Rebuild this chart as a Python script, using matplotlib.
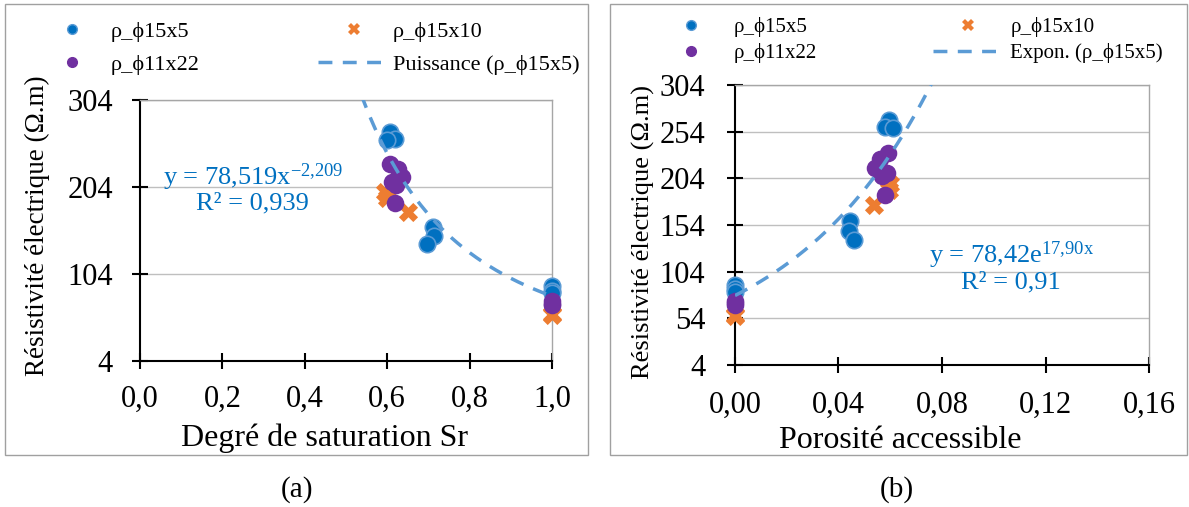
import numpy as np
import matplotlib
matplotlib.use("Agg")
import matplotlib.pyplot as plt
from matplotlib.lines import Line2D
from matplotlib.patches import Rectangle

plt.rcParams['font.family'] = ['Liberation Serif', 'DejaVu Serif']
plt.rcParams['mathtext.fontset'] = 'custom'
plt.rcParams['mathtext.rm'] = 'Liberation Serif'
plt.rcParams['mathtext.it'] = 'Liberation Serif'

# données
rho_15x5 = [267, 259, 258, 158, 148, 138, 90, 85, 82]
sr_15x5 = [0.607, 0.619, 0.599, 0.710, 0.714, 0.697, 1.0, 1.0, 1.0]
por_15x5 = [0.0596, 0.0581, 0.0610, 0.0443, 0.0439, 0.0461, 0.0, 0.0, 0.0]

rho_15x10 = [198, 191, 175, 58, 57]
sr_15x10 = [0.595, 0.599, 0.651, 1.0, 1.0]
por_15x10 = [0.0600, 0.0594, 0.0536, 0.0, 0.0]

rho_11x22 = [231, 225, 215, 210, 206, 186, 73, 70, 68]
sr_11x22 = [0.607, 0.627, 0.635, 0.611, 0.621, 0.619, 1.0, 1.0, 1.0]
por_11x22 = [0.0590, 0.0561, 0.0542, 0.0587, 0.0568, 0.0581, 0.0, 0.0, 0.0]

# courbes de tendance (équations affichées)
pow_a, pow_b = 78.519, -2.209
exp_a, exp_b = 78.42, 17.90

y_ticks_a = [4, 104, 204, 304]
x_ticks_a = [0.0, 0.2, 0.4, 0.6, 0.8, 1.0]
y_ticks_b = [4, 54, 104, 154, 204, 254, 304]
x_ticks_b = [0.0, 0.04, 0.08, 0.12, 0.16]

c_blue = '#0070C0'
c_blue_edge = '#5B9BD5'
c_orange = '#ED7D31'
c_purple = '#7030A0'
c_trend = '#5B9BD5'
c_eq = '#0070C0'
dash = (0, (4, 3))

W, H = 1189, 507
fig = plt.figure(figsize=(W / 100, H / 100), dpi=100)

# cadres des deux graphiques
for x0, x1 in [(5, 588), (610, 1187)]:
    fig.patches.append(Rectangle((x0 / W, 1 - 455 / H), (x1 - x0) / W, 451 / H,
                                 transform=fig.transFigure, fill=False,
                                 edgecolor='#A0A0A0', lw=1))

ax1 = fig.add_axes([140 / W, 1 - 361 / H, 412 / W, 261 / H])
ax2 = fig.add_axes([735 / W, 1 - 365 / H, 414 / W, 280 / H])


def style_axes(ax, xt, yt, xfmt, fs, xpad, ypad):
    ax.set_ylim(yt[0], yt[-1])
    ax.set_xlim(xt[0], xt[-1])
    ax.set_yticks(yt)
    ax.set_xticks(xt)
    ax.set_xticklabels([xfmt.format(v).replace('.', ',') for v in xt], fontsize=fs)
    ax.set_yticklabels([str(v) for v in yt], fontsize=fs)
    ax.yaxis.grid(True, color='#BFBFBF', lw=1)
    ax.set_axisbelow(True)
    for s in ['left', 'bottom']:
        ax.spines[s].set_color('black')
        ax.spines[s].set_linewidth(1.5)
    for s in ['top', 'right']:
        ax.spines[s].set_color('#A6A6A6')
        ax.spines[s].set_linewidth(1)
    ax.tick_params(direction='inout', length=12, width=1.5, color='black')
    ax.tick_params(axis='x', pad=xpad)
    ax.tick_params(axis='y', pad=ypad)


def scatter_all(ax, xs):
    ax.scatter(xs[0], rho_15x5, s=140, c=c_blue, edgecolors=c_blue_edge, linewidths=1.2,
               zorder=3, clip_on=False)
    ax.scatter(xs[1], rho_15x10, s=190, c=c_orange, marker='X', linewidths=0,
               zorder=3, clip_on=False)
    ax.scatter(xs[2], rho_11x22, s=160, c=c_purple, linewidths=0, zorder=3, clip_on=False)


# (a) degré de saturation
style_axes(ax1, x_ticks_a, y_ticks_a, '{:.1f}', 22, 11, 13.5)
scatter_all(ax1, [sr_15x5, sr_15x10, sr_11x22])
xa = np.linspace(0.5, 1.0, 200)
ax1.plot(xa, pow_a * xa ** pow_b, ls=dash, color=c_trend, lw=2.5, zorder=4)
ax1.set_xlabel('Degré de saturation Sr', fontsize=23)
ax1.xaxis.label.set_verticalalignment('center')
ax1.xaxis.set_label_coords(0.449, -0.295)
ax1.set_ylabel('Résistivité électrique (Ω.m)', fontsize=19.5)
ax1.yaxis.label.set_verticalalignment('center')
ax1.yaxis.set_label_coords(-0.248, 0.517)
ax1.text(0.275, 0.705, r'y = 78,519x$^{-2{,}209}$', transform=ax1.transAxes,
         ha='center', va='center', fontsize=19, color=c_eq)
ax1.text(0.272, 0.605, 'R² = 0,939', transform=ax1.transAxes,
         ha='center', va='center', fontsize=19, color=c_eq)

# (b) porosité accessible
style_axes(ax2, x_ticks_b, y_ticks_b, '{:.2f}', 22, 12.5, 15.5)
scatter_all(ax2, [por_15x5, por_15x10, por_11x22])
xb = np.linspace(0.0, 0.08, 200)
ax2.plot(xb, exp_a * np.exp(exp_b * xb), ls=dash, color=c_trend, lw=2.5, zorder=4)
ax2.set_xlabel('Porosité accessible', fontsize=23)
ax2.xaxis.label.set_verticalalignment('center')
ax2.xaxis.set_label_coords(0.399, -0.268)
ax2.set_ylabel('Résistivité électrique (Ω.m)', fontsize=19)
ax2.yaxis.label.set_verticalalignment('center')
ax2.yaxis.set_label_coords(-0.222, 0.475)
ax2.text(0.669, 0.393, r'y = 78,42e$^{17{,}90x}$', transform=ax2.transAxes,
         ha='center', va='center', fontsize=19, color=c_eq)
ax2.text(0.667, 0.296, 'R² = 0,91', transform=ax2.transAxes,
         ha='center', va='center', fontsize=19, color=c_eq)

# légendes
handles = [
    Line2D([], [], ls='none', marker='o', ms=7, color=c_blue, mec=c_blue_edge),
    Line2D([], [], ls='none', marker='o', ms=7, color=c_purple, mec=c_purple),
    Line2D([], [], ls='none', marker='X', ms=8, color=c_orange, mew=0),
]
trend_h = Line2D([], [], ls=dash, color=c_trend, lw=2.5)
leg_labels = ['ρ_ϕ15x5', 'ρ_ϕ11x22', 'ρ_ϕ15x10']

fig.legend(handles + [trend_h], leg_labels + ['Puissance (ρ_ϕ15x5)'],
           loc='upper left', bbox_to_anchor=(36 / W, 1 - 21 / H), ncol=2,
           frameon=False, fontsize=16, borderpad=0, borderaxespad=0,
           handlelength=3.24, handletextpad=0.14, columnspacing=5.3,
           labelspacing=0.56)
fig.legend(handles + [trend_h], leg_labels + ['Expon. (ρ_ϕ15x5)'],
           loc='upper left', bbox_to_anchor=(656 / W, 1 - 17 / H), ncol=2,
           frameon=False, fontsize=15, borderpad=0, borderaxespad=0,
           handlelength=3.37, handletextpad=0.35, columnspacing=5.58,
           labelspacing=0.3)

fig.text(297 / W, 1 - 490 / H, '(a)', ha='center', va='center', fontsize=21)
fig.text(897 / W, 1 - 490 / H, '(b)', ha='center', va='center', fontsize=21)

fig.savefig('out.png', dpi=100)
